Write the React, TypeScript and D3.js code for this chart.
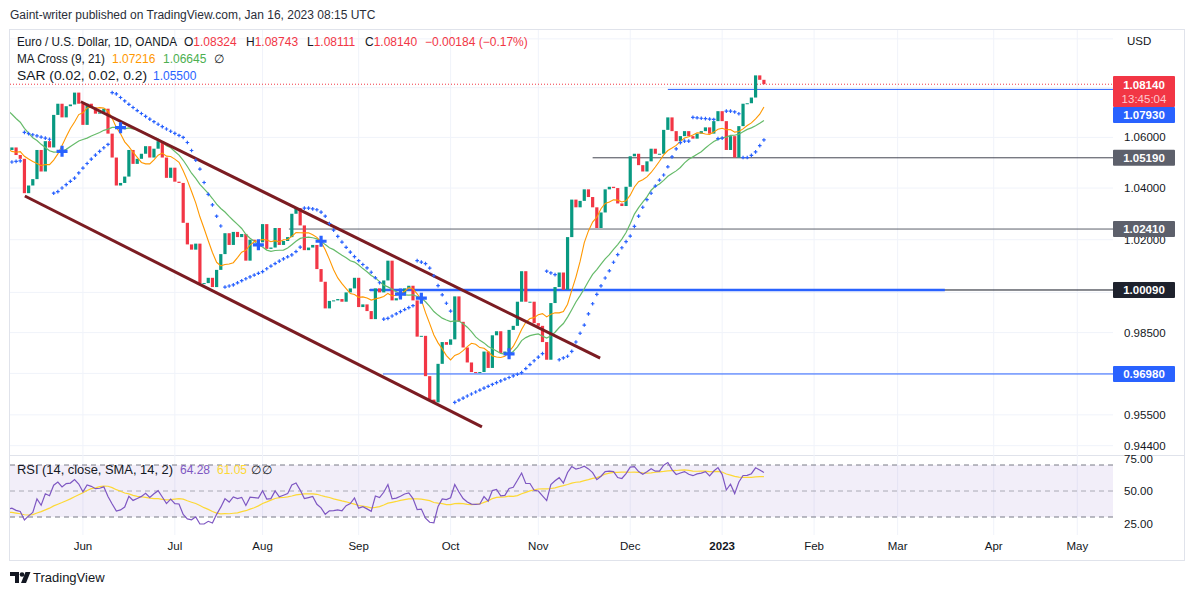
import React from 'react';
import * as d3 from 'd3';

// ---- data -------------------------------------------------------------
// daily closes before the first visible bar (only used to warm up indicators)
const priorCloses = [
	1.0985, 1.109, 1.116, 1.1065, 1.1045, 1.097, 1.0905, 1.09, 1.088, 1.0875,
	1.0885, 1.083, 1.089, 1.0825, 1.081, 1.078, 1.079, 1.085, 1.0835, 1.0795,
	1.0715, 1.064, 1.056, 1.0495, 1.0545, 1.0505, 1.0525, 1.062, 1.054, 1.055,
];

// EUR/USD daily closes, May 9 2022 -> Jan 16 2023 (open = previous close)
const firstOpen = 1.055;
const closes = [
	1.056, 1.053, 1.0515, 1.038, 1.041, 1.0435, 1.055, 1.0465, 1.0585, 1.056,
	1.069, 1.0735, 1.068, 1.0725, 1.0732, 1.078, 1.0735, 1.065, 1.0735, 1.072,
	1.0695, 1.07, 1.0715, 1.0615, 1.052, 1.041, 1.042, 1.0445, 1.055, 1.0495,
	1.0515, 1.0535, 1.0565, 1.052, 1.0555, 1.0585, 1.052, 1.044, 1.048, 1.0425,
	1.042, 1.0265, 1.0182, 1.0162, 1.0185, 1.0035, 1.0035, 1.0055, 1.002, 1.0085,
	1.0145, 1.0225, 1.018, 1.023, 1.021, 1.0222, 1.012, 1.02, 1.0195, 1.019,
	1.026, 1.0165, 1.017, 1.0245, 1.018, 1.0195, 1.021, 1.03, 1.0322, 1.0255,
	1.016, 1.017, 1.018, 1.0088, 1.004, 0.994, 0.9968, 0.997, 0.9975, 0.9965,
	1.0, 1.0015, 1.0055, 0.9945, 0.9955, 0.993, 0.99, 1.0015, 1.0, 1.0045,
	1.012, 0.997, 0.9978, 0.9995, 1.0015, 1.0025, 0.997, 0.9835, 0.9838, 0.969,
	0.9605, 0.9595, 0.9735, 0.9815, 0.9805, 0.9825, 0.9985, 0.989, 0.9795, 0.974,
	0.9705, 0.9702, 0.9705, 0.978, 0.972, 0.984, 0.9855, 0.9775, 0.978, 0.986,
	0.9875, 0.9965, 1.008, 0.9965, 0.9965, 0.9885, 0.9875, 0.9815, 0.975, 0.996,
	1.002, 1.0075, 1.001, 1.021, 1.0355, 1.0325, 1.035, 1.0395, 1.0365, 1.0325,
	1.0245, 1.0305, 1.0395, 1.0405, 1.04, 1.034, 1.033, 1.0405, 1.0525, 1.0535,
	1.049, 1.0465, 1.0505, 1.0555, 1.0535, 1.0535, 1.063, 1.068, 1.0625, 1.0585,
	1.0605, 1.0625, 1.0605, 1.0595, 1.0615, 1.0625, 1.064, 1.0615, 1.0665, 1.0705,
	1.0665, 1.055, 1.0605, 1.052, 1.0645, 1.0735, 1.0737, 1.076, 1.085, 1.0832,
	1.0814,
];

const monthLabels = ['Jun', 'Jul', 'Aug', 'Sep', 'Oct', 'Nov', 'Dec', '2023', 'Feb', 'Mar', 'Apr', 'May'];
const monthBars = [17, 39, 60, 83, 105, 126, 148, 170, 192, 212, 235, 255];

const priceGrid = [1.1, 1.08, 1.06, 1.04, 1.02, 1.0, 0.985, 0.97, 0.955, 0.944];
const priceTickLabels = [1.06, 1.04, 1.02, 0.985, 0.955, 0.944];
const rsiTickLabels = [75, 50, 25];
const rsiBands = [70, 50, 30];

// drawn channel: [bar, price] end points
const channelUpper = [[16.5, 1.0743], [140.8, 0.9756]];
const channelLower = [[3.1, 1.0369], [112.5, 0.9507]];

// horizontal levels and the bar each one starts at
const levelPrices = [1.0793, 1.0519, 1.0241, 1.0009, 0.9698];
const levelStartBars = [157, 139, 66.3, 85.5, 88.8];
const blueSegmentBars = [85.7, 223.3]; // thick blue part of the 1.0009 level

// ---- layout -----------------------------------------------------------
const PL = 10;
const PR = 1113;
const PT = 30;
const PB = 455;
const RB = 535;
const FONT = '"Liberation Sans", Arial, sans-serif';
const GREEN = '#089981';
const RED = '#f23645';
const BLUE = '#2962ff';
const TXT = '#131722';

// ---- indicators -------------------------------------------------------
const sma = (arr: number[], n: number) =>
	arr.map((_, i) => (i < n - 1 ? NaN : (d3.mean(arr.slice(i - n + 1, i + 1)) as number)));

function rsiCalc(arr: number[], n: number) {
	const out = arr.map(() => NaN);
	let ag = 0;
	let al = 0;
	for (let i = 1; i < arr.length; i++) {
		const ch = arr[i] - arr[i - 1];
		const g = Math.max(ch, 0);
		const l = Math.max(-ch, 0);
		if (i <= n) {
			ag += g / n;
			al += l / n;
			if (i < n) continue;
		} else {
			ag = (ag * (n - 1) + g) / n;
			al = (al * (n - 1) + l) / n;
		}
		out[i] = al === 0 ? 100 : 100 - 100 / (1 + ag / al);
	}
	return out;
}

function sarCalc(hi: number[], lo: number[], start: number, inc: number, max: number) {
	const out = hi.map(() => NaN);
	let up = hi[1] >= hi[0];
	let af = start;
	let ep = up ? hi[0] : lo[0];
	let s = up ? lo[0] : hi[0];
	for (let i = 1; i < hi.length; i++) {
		s = s + af * (ep - s);
		if (up) {
			s = Math.min(s, lo[i - 1], lo[Math.max(0, i - 2)]);
			if (lo[i] < s) {
				up = false;
				s = ep;
				ep = lo[i];
				af = start;
			} else if (hi[i] > ep) {
				ep = hi[i];
				af = Math.min(af + inc, max);
			}
		} else {
			s = Math.max(s, hi[i - 1], hi[Math.max(0, i - 2)]);
			if (hi[i] > s) {
				up = true;
				s = ep;
				ep = hi[i];
				af = start;
			} else if (lo[i] < ep) {
				ep = lo[i];
				af = Math.min(af + inc, max);
			}
		}
		out[i] = s;
	}
	return out;
}

const App: React.FC = () => {
	const all = [...priorCloses, ...closes];
	const P = priorCloses.length;
	const allOpens = all.map((c, i) => (i === 0 ? c : i === P ? firstOpen : all[i - 1]));
	const hi = all.map((c, i) => Math.max(c, allOpens[i]));
	const lo = all.map((c, i) => Math.min(c, allOpens[i]));

	const ma9 = sma(all, 9);
	const ma21 = sma(all, 21);
	const rsi = rsiCalc(all, 14);
	const rsiMa = sma(rsi.map((v) => (isNaN(v) ? 0 : v)), 14).map((v, i) =>
		i < 14 + 13 ? NaN : v
	);
	const sar = sarCalc(hi, lo, 0.02, 0.02, 0.2);

	const x = d3.scaleLinear().domain([-0.4548, 263.55]).range([PL, PR]);
	const y = d3.scaleLog().domain([0.9407, 1.10367]).range([PB, PT]);
	const yr = d3.scaleLinear().domain([0, 100]).range([556, 426]);

	const bars = closes.map((c, k) => ({ k, o: allOpens[P + k], c }));

	const lineFrom = (vals: number[], sc: (v: number) => number) =>
		d3
			.line<number>()
			.defined((v) => !isNaN(v))
			.x((_, i) => x(i - P))
			.y((v) => sc(v))(vals) ?? '';

	let sarPath = '';
	for (let k = 0; k < closes.length; k++) {
		const v = sar[P + k];
		if (isNaN(v)) continue;
		const cx = x(k);
		const cy = y(v);
		sarPath += `M${cx - 1.8},${cy}H${cx + 1.8}M${cx},${cy - 1.8}V${cy + 1.8}`;
	}

	const crosses: { k: number; v: number }[] = [];
	for (let k = 0; k < closes.length; k++) {
		const j = P + k;
		const a = ma9[j] - ma21[j];
		const b = ma9[j - 1] - ma21[j - 1];
		if (Math.sign(a) !== Math.sign(b)) crosses.push({ k, v: ma21[j] });
	}

	const levelColors = [BLUE, '#434651', '#5d606b', TXT, BLUE];
	const badgeColors = [BLUE, '#5d606b', '#5d606b', '#1e222d', BLUE];
	const badgeY = levelPrices.map((p, i) => (i === 0 ? 115 : y(p)));
	const lastPrice = closes[closes.length - 1];

	return (
		<svg
			width={1194}
			height={595}
			style={{ position: 'absolute', left: 0, top: 0, background: '#fff', fontFamily: FONT }}
		>
			<defs>
				<clipPath id='pricePane'>
					<rect x={PL} y={PT} width={PR - PL} height={PB - PT} />
				</clipPath>
				<clipPath id='rsiPane'>
					<rect x={PL} y={PB} width={PR - PL} height={RB - PB} />
				</clipPath>
			</defs>

			<text x={10} y={19} fontSize={12} fill='#2a2e39'>
				Gaint-writer published on TradingView.com, Jan 16, 2023 08:15 UTC
			</text>

			{/* frame */}
			<rect x={9.5} y={29.5} width={1175} height={531} fill='none' stroke='#e0e3eb' />
			<line x1={PL} x2={1184} y1={PB + 0.5} y2={PB + 0.5} stroke='#e0e3eb' />

			{/* grid */}
			{monthBars.map((b) => (
				<line key={b} x1={x(b)} x2={x(b)} y1={PT} y2={RB} stroke='#f0f3fa' />
			))}
			{priceGrid.map((p) => (
				<line key={p} x1={PL} x2={PR} y1={y(p)} y2={y(p)} stroke='#f0f3fa' />
			))}

			{/* RSI pane */}
			<rect
				x={PL}
				y={yr(70)}
				width={PR - PL}
				height={yr(30) - yr(70)}
				fill='rgba(126,87,194,0.1)'
			/>
			{rsiBands.map((v) => (
				<line
					key={v}
					x1={PL}
					x2={PR}
					y1={yr(v)}
					y2={yr(v)}
					stroke='#787b86'
					strokeDasharray='5,4'
					strokeOpacity={v === 50 ? 0.6 : 1}
				/>
			))}
			<g clipPath='url(#rsiPane)'>
				<path d={lineFrom(rsiMa, yr)} fill='none' stroke='#fdd835' strokeWidth={1.2} />
				<path d={lineFrom(rsi, yr)} fill='none' stroke='#7e57c2' strokeWidth={1.2} />
			</g>

			<g clipPath='url(#pricePane)'>
				{/* levels */}
				{levelPrices.map((p, i) => (
					<line
						key={p}
						x1={x(levelStartBars[i])}
						x2={PR}
						y1={y(p)}
						y2={y(p)}
						stroke={levelColors[i]}
						strokeWidth={1}
					/>
				))}
				<line
					x1={x(blueSegmentBars[0])}
					x2={x(blueSegmentBars[1])}
					y1={y(levelPrices[3])}
					y2={y(levelPrices[3])}
					stroke={BLUE}
					strokeWidth={2.5}
				/>
				<line
					x1={PL}
					x2={PR}
					y1={y(lastPrice)}
					y2={y(lastPrice)}
					stroke={RED}
					strokeDasharray='1,2'
				/>

				{/* candles */}
				{bars.map((b) => {
					const top = y(Math.max(b.o, b.c));
					const bot = y(Math.min(b.o, b.c));
					return (
						<rect
							key={b.k}
							x={x(b.k) - 1.6}
							y={top}
							width={3.2}
							height={Math.max(1, bot - top)}
							fill={b.c >= b.o ? GREEN : RED}
						/>
					);
				})}

				<path d={lineFrom(ma21, y)} fill='none' stroke='#66bb6a' strokeWidth={1.2} />
				<path d={lineFrom(ma9, y)} fill='none' stroke='#ff9800' strokeWidth={1.1} />

				{[channelUpper, channelLower].map((c, i) => (
					<line
						key={i}
						x1={x(c[0][0])}
						y1={y(c[0][1])}
						x2={x(c[1][0])}
						y2={y(c[1][1])}
						stroke='#7b1c22'
						strokeWidth={3}
					/>
				))}

				<path d={sarPath} stroke={BLUE} strokeWidth={1.2} fill='none' />
				{crosses.map((c) => (
					<path
						key={c.k}
						d={`M${x(c.k) - 5.5},${y(c.v)}H${x(c.k) + 5.5}M${x(c.k)},${y(c.v) - 5.5}V${y(c.v) + 5.5}`}
						stroke={BLUE}
						strokeWidth={3.2}
					/>
				))}
			</g>

			{/* legends */}
			<g fontSize={12} fill={TXT}>
				<text x={17} y={46} textLength={160} lengthAdjust='spacingAndGlyphs'>
					Euro / U.S. Dollar, 1D, OANDA
				</text>
				<text x={184} y={46}>
					O<tspan fill={RED}>1.08324</tspan>
				</text>
				<text x={246} y={46}>
					H<tspan fill={RED}>1.08743</tspan>
				</text>
				<text x={307} y={46}>
					L<tspan fill={RED}>1.08111</tspan>
				</text>
				<text x={365} y={46}>
					C<tspan fill={RED}>1.08140</tspan>
				</text>
				<text x={425} y={46} fill={RED}>
					−0.00184 (−0.17%)
				</text>
				<text x={17} y={63} textLength={88} lengthAdjust='spacingAndGlyphs'>
					MA Cross (9, 21)
				</text>
				<text x={112} y={63} fill='#ff9800'>
					1.07216
				</text>
				<text x={163} y={63} fill='#4caf50'>
					1.06645
				</text>
				<text x={214} y={63}>∅</text>
				<text x={17} y={80} textLength={130} lengthAdjust='spacingAndGlyphs'>
					SAR (0.02, 0.02, 0.2)
				</text>
				<text x={153} y={80} fill={BLUE}>
					1.05500
				</text>
				<text x={17} y={474} textLength={156} lengthAdjust='spacingAndGlyphs'>
					RSI (14, close, SMA, 14, 2)
				</text>
				<text x={180} y={474} fill='#7e57c2'>
					64.28
				</text>
				<text x={217} y={474} fill='#fdd835'>
					61.05
				</text>
				<text x={251} y={474}>∅</text>
				<text x={262} y={474}>∅</text>
			</g>

			{/* price axis */}
			<g fontSize={11.5} fill={TXT}>
				<text x={1127} y={45}>USD</text>
				{priceTickLabels.map((p) => (
					<text key={p} x={1124} y={y(p) + 4}>
						{p.toFixed(5)}
					</text>
				))}
				{rsiTickLabels.map((v) => (
					<text key={v} x={1124} y={yr(v) + 4}>
						{v.toFixed(2)}
					</text>
				))}
			</g>

			{/* badges */}
			{levelPrices.map((p, i) => (
				<g key={p}>
					<rect x={1113} y={badgeY[i] - 8} width={62} height={16} fill={badgeColors[i]} rx={1} />
					<text
						x={1144}
						y={badgeY[i] + 4}
						textAnchor='middle'
						fontSize={11.5}
						fontWeight='bold'
						fill='#fff'
					>
						{p.toFixed(5)}
					</text>
				</g>
			))}
			<rect x={1113} y={76} width={62} height={31} fill={RED} rx={1} />
			<text x={1144} y={89} textAnchor='middle' fontSize={11.5} fontWeight='bold' fill='#fff'>
				{lastPrice.toFixed(5)}
			</text>
			<text x={1144} y={103} textAnchor='middle' fontSize={11.5} fill='#fcc9ce'>
				13:45:04
			</text>

			{/* time axis */}
			<g fontSize={11.5} fill={TXT}>
				{monthLabels.map((m, i) => (
					<text
						key={m}
						x={x(monthBars[i])}
						y={550}
						textAnchor='middle'
						fontWeight={m === '2023' ? 'bold' : 'normal'}
					>
						{m}
					</text>
				))}
			</g>

			{/* footer logo */}
			<g fill={TXT}>
				<path d='M10,572H19V583H15V576H10Z' />
				<circle cx={22} cy={574.5} r={2.3} />
				<path d='M25.5,572H30.5L26,583H21Z' />
				<text x={33} y={582} fontSize={13}>
					TradingView
				</text>
			</g>
		</svg>
	);
};

export default App;
